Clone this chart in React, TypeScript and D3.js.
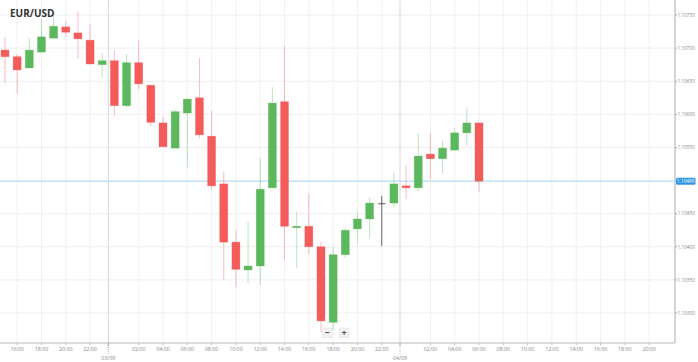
import React from "react";
import * as d3 from "d3";

// hourly candles, EUR/USD, starting 02/09 15:00
const startTime = new Date(2019, 8, 2, 15);
const opens = [
  1.10697, 1.10687, 1.1067, 1.10694, 1.10715, 1.10732, 1.10723, 1.10712, 1.10675, 1.10681,
  1.10613, 1.10678, 1.10644, 1.10587, 1.10549, 1.10602, 1.10625, 1.10567, 1.10495, 1.10407,
  1.10365, 1.10371, 1.10489, 1.10619, 1.1043, 1.10431, 1.104, 1.10286, 1.10388, 1.10427,
  1.10442, 1.10465, 1.10466, 1.10492, 1.10489, 1.1054, 1.10533, 1.10546, 1.10572, 1.10587,
];
const highs = [
  1.10717, 1.10691, 1.10715, 1.10744, 1.10753, 1.10741, 1.10755, 1.10736, 1.10693, 1.10697,
  1.10691, 1.10711, 1.10644, 1.10596, 1.10607, 1.10623, 1.10685, 1.10605, 1.10514, 1.10425,
  1.10437, 1.10534, 1.10641, 1.10703, 1.10453, 1.1048, 1.10407, 1.104, 1.10428, 1.10451,
  1.10474, 1.10477, 1.10514, 1.10522, 1.10572, 1.10572, 1.1056, 1.10579, 1.1061, 1.10587,
];
const lows = [
  1.10647, 1.10632, 1.1067, 1.10694, 1.10715, 1.10717, 1.10684, 1.10676, 1.10655, 1.10597,
  1.1061, 1.10638, 1.10582, 1.10551, 1.10549, 1.1052, 1.10564, 1.10487, 1.1035, 1.10339,
  1.10345, 1.10342, 1.10489, 1.10379, 1.10368, 1.10389, 1.10271, 1.10274, 1.10383, 1.10406,
  1.10413, 1.10401, 1.1046, 1.10472, 1.10484, 1.10502, 1.10511, 1.10546, 1.10552, 1.10483,
];
const closes = [
  1.10687, 1.10667, 1.10697, 1.10717, 1.10733, 1.10724, 1.10714, 1.10676, 1.10681, 1.10613,
  1.10678, 1.10646, 1.10588, 1.10551, 1.10604, 1.10623, 1.10569, 1.10492, 1.10407, 1.10366,
  1.10371, 1.10487, 1.10617, 1.10431, 1.10431, 1.104, 1.10288, 1.10388, 1.10425, 1.10442,
  1.10466, 1.10465, 1.10495, 1.10489, 1.10537, 1.10533, 1.10549, 1.10572, 1.10587, 1.10499,
];
const priceTicks = [1.1075, 1.107, 1.1065, 1.106, 1.1055, 1.1045, 1.104, 1.1035, 1.103];
const lastPrice = 1.10499;
const dateLabels = ["03/09", "04/09"];

const W = 698;
const H = 362;
const plotRight = 675;
const plotBottom = 343;
const red = "#f45b5b";
const green = "#5cb85c";

export default function App() {
  const hour = 3600 * 1000;
  const endTime = new Date(startTime.getTime() + 39 * hour);
  const x = d3.scaleTime().domain([startTime, endTime]).range([5, 479]);
  const y = d3.scaleLinear().domain([1.1075, 1.103]).range([15, 313]);

  const candles = opens.map((o, i) => ({
    t: new Date(startTime.getTime() + i * hour),
    o,
    h: highs[i],
    l: lows[i],
    c: closes[i],
  }));

  // 2-hour ticks, midnight replaced by a date label half an hour earlier
  const allTicks = d3.timeHour.every(2)!.range(
    new Date(2019, 8, 2, 16),
    new Date(2019, 8, 4, 21)
  );
  const hourTicks = allTicks.filter((d) => d.getHours() !== 0);
  const dayTicks = [new Date(2019, 8, 3), new Date(2019, 8, 4)];
  const dayX = (d: Date) => x(new Date(d.getTime() - hour / 2));
  const fmt = d3.timeFormat("%H:%M");
  const bw = 8;

  return (
    <svg
      width={W}
      height={H}
      style={{ position: "fixed", left: 0, top: 0, background: "#fff" }}
      fontFamily="'Open Sans', sans-serif"
    >
      {/* grid */}
      {priceTicks.map((p) => (
        <line key={"hg" + p} x1={0} x2={plotRight} y1={y(p)} y2={y(p)} stroke="#efefef" />
      ))}
      {hourTicks.map((d) => (
        <line key={"vg" + d.getTime()} x1={x(d)} x2={x(d)} y1={0} y2={plotBottom} stroke="#f0f0f0" />
      ))}
      {dayTicks.map((d) => (
        <line key={"dg" + d.getTime()} x1={dayX(d)} x2={dayX(d)} y1={0} y2={plotBottom} stroke="#d6d6d6" />
      ))}

      {/* current price line */}
      <line x1={0} x2={plotRight} y1={y(lastPrice)} y2={y(lastPrice)} stroke="#b7dcf5" strokeWidth={1.2} />

      {/* candles */}
      {candles.map((d, i) => {
        const cx = x(d.t);
        const flat = d.o === d.c;
        const col = flat ? "#555" : d.c > d.o ? green : red;
        const top = y(Math.max(d.o, d.c));
        const bot = y(Math.min(d.o, d.c));
        return (
          <g key={i}>
            <line
              x1={cx}
              x2={cx}
              y1={y(d.h)}
              y2={y(d.l)}
              stroke={col}
              strokeOpacity={flat ? 0.9 : 0.4}
              strokeWidth={1}
            />
            {flat ? (
              <line x1={cx - 3.5} x2={cx + 3.5} y1={top} y2={top} stroke={col} strokeWidth={1} />
            ) : (
              <rect
                x={cx - bw / 2}
                y={top}
                width={bw}
                height={Math.max(1.5, bot - top)}
                fill={col}
                stroke={col}
                strokeOpacity={0.5}
                strokeWidth={0.6}
              />
            )}
          </g>
        );
      })}

      {/* axes */}
      <line x1={plotRight} x2={plotRight} y1={0} y2={plotBottom} stroke="#aaa" />
      <line x1={0} x2={plotRight} y1={plotBottom} y2={plotBottom} stroke="#bbb" />
      {priceTicks.map((p) => (
        <g key={"yt" + p}>
          <line x1={plotRight} x2={plotRight + 2} y1={y(p)} y2={y(p)} stroke="#aaa" />
          <text
            x={plotRight + 2.5}
            y={y(p)}
            dy="0.35em"
            fontSize={5}
            fill="#888"
            textLength={17.5}
            lengthAdjust="spacingAndGlyphs"
          >
            {p.toFixed(5)}
          </text>
        </g>
      ))}
      <rect x={plotRight + 1} y={y(lastPrice) - 3.5} width={19.5} height={7} rx={1.5} fill="#2f96e4" />
      <text
        x={plotRight + 2}
        y={y(lastPrice)}
        dy="0.35em"
        fontSize={5}
        fill="#fff"
        textLength={17.5}
        lengthAdjust="spacingAndGlyphs"
      >
        {lastPrice.toFixed(5)}
      </text>

      {hourTicks.map((d) => (
        <g key={"xt" + d.getTime()}>
          <line x1={x(d)} x2={x(d)} y1={plotBottom} y2={plotBottom + 2} stroke="#bbb" />
          <text x={x(d)} y={plotBottom + 6.5} dy="0.35em" fontSize={5.3} fill="#888" textAnchor="middle">
            {fmt(d)}
          </text>
        </g>
      ))}
      {dayTicks.map((d, i) => (
        <g key={"dt" + i}>
          <line x1={dayX(d)} x2={dayX(d)} y1={plotBottom} y2={plotBottom + 3} stroke="#999" />
          <line
            x1={dayX(d)}
            x2={dayX(d)}
            y1={plotBottom + 4}
            y2={plotBottom + 11}
            stroke="#bbb"
            strokeDasharray="1,1"
          />
          <text x={dayX(d)} y={plotBottom + 15} dy="0.35em" fontSize={5.3} fill="#888" textAnchor="middle">
            {dateLabels[i]}
          </text>
        </g>
      ))}

      {/* zoom buttons */}
      <rect x={322} y={328} width={10} height={10} fill="#f2f2f2" stroke="#e2e2e2" strokeWidth={0.5} />
      <text x={327} y={333} dy="0.35em" fontSize={9} fill="#555" textAnchor="middle" fontWeight="bold">
        −
      </text>
      <rect x={339} y={328} width={10} height={10} fill="#f2f2f2" stroke="#e2e2e2" strokeWidth={0.5} />
      <text x={344} y={333} dy="0.35em" fontSize={9} fill="#555" textAnchor="middle" fontWeight="bold">
        +
      </text>

      {/* title */}
      <text x={10} y={13} dy="0.35em" fontSize={10} fontWeight="bold" fill="#333">
        EUR/USD
      </text>
    </svg>
  );
}
